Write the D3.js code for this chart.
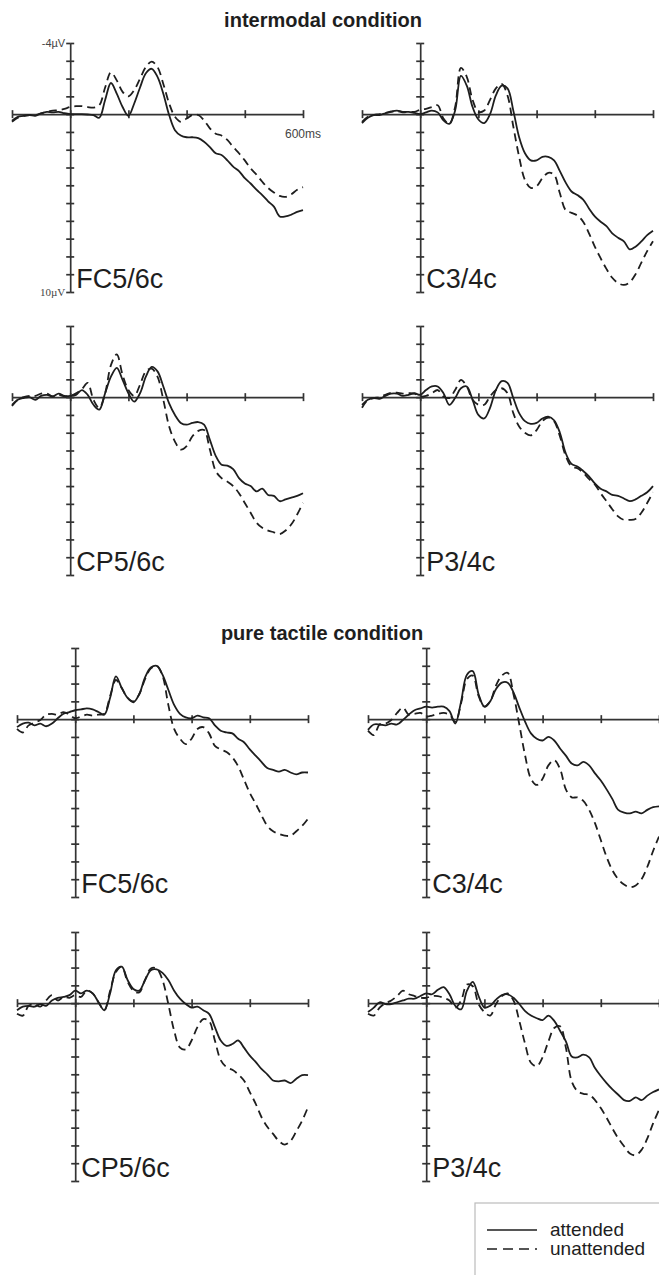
<!DOCTYPE html>
<html>
<head>
<meta charset="utf-8">
<script src="https://cdn.jsdelivr.net/npm/d3@7/dist/d3.min.js"></script>
<style>
  body { margin: 0; background: #fff; }
  svg { display: block; font-family: "Liberation Sans", Arial, Helvetica, sans-serif; }
</style>
</head>
<body>
<div id="chart"></div>
<script>
// sample times (ms) shared by every curve
var times = [-150, -135, -120, -105, -90, -75, -60, -45, -30, -15, 0, 15, 30, 45, 60, 75, 90, 105, 120, 135,
  150, 165, 180, 195, 210, 225, 240, 255, 270, 285, 300, 315, 330, 345, 360, 375, 390, 405, 420, 435,
  450, 465, 480, 495, 510, 525, 540, 555, 570, 585, 600];

var conditions = ["intermodal condition", "pure tactile condition"];
var channels = ["FC5/6c", "C3/4c", "CP5/6c", "P3/4c"];
var seriesNames = ["attended", "unattended"];
var xTicks = [-150, 0, 150, 300, 450, 600];
var yTicks = [-4, -3, -2, -1, 0, 1, 2, 3, 4, 5, 6, 7, 8, 9, 10];

// values in microvolts (negative up)
// intermodal condition
var interFCatt = [0.37, 0.15, 0.1, 0.05, 0.1, -0.05, -0.13, -0.1, -0.13, -0.05, 0, 0, 0, 0.02, 0.05, 0.2, -0.8, -1.75, -1.15, -0.4,
  0.1, -0.6, -1.5, -2.3, -2.55, -2.1, -1.15, 0.05, 0.9, 1.2, 1.3, 1.3, 1.35, 1.55, 1.85, 2.2, 2.3, 2.6, 2.95, 3.2,
  3.6, 3.9, 4.25, 4.55, 4.9, 5.2, 5.75, 5.75, 5.65, 5.5, 5.4];
var interFCun = [0.43, 0.2, 0.1, 0.05, 0.05, -0.05, -0.13, -0.2, -0.22, -0.3, -0.4, -0.45, -0.45, -0.4, -0.37, -0.5, -1.5, -2.35, -1.9, -1.25,
  -1.0, -1.35, -2.0, -2.65, -2.95, -2.65, -1.7, -0.6, 0.15, 0.43, 0.25, 0.05, 0.05, 0.35, 0.8, 1.1, 1.2, 1.45, 1.85, 2.2,
  2.6, 3.05, 3.4, 3.8, 4.15, 4.4, 4.6, 4.65, 4.5, 4.25, 4.1];
var interCatt = [0.5, 0.2, 0.05, 0.05, -0.05, -0.15, -0.2, -0.13, -0.13, -0.07, 0, -0.1, -0.2, -0.1, 0.35, 0.55, -0.2, -2.15, -1.6, -0.4,
  0.3, 0.5, 0, -1.05, -1.6, -1.45, -0.2, 1.3, 2.2, 2.6, 2.6, 2.4, 2.4, 2.6, 3.2, 3.85, 4.35, 4.55, 4.8, 5.3,
  5.75, 6.05, 6.3, 6.7, 6.95, 7.15, 7.6, 7.45, 7.15, 6.8, 6.55];
var interCun = [0.43, 0.15, 0.05, 0, -0.07, -0.13, -0.17, -0.1, -0.13, -0.13, -0.25, -0.3, -0.4, -0.5, 0.25, 0.55, -0.4, -2.6, -2.1, -0.8,
  -0.13, -0.2, -0.8, -1.45, -1.7, -1.05, 0.7, 2.4, 3.7, 4.15, 4.05, 3.6, 3.3, 3.4, 4.45, 5.4, 5.55, 5.7, 6.05, 6.7,
  7.45, 8.1, 8.7, 9.2, 9.5, 9.6, 9.45, 9.0, 8.35, 7.7, 7.15];
var interCPatt = [0.43, 0.15, 0.05, 0, 0.15, -0.07, -0.13, -0.04, -0.2, -0.07, -0.07, -0.13, -0.4, -0.13, 0.43, 0.7, -0.22, -1.15, -1.65, -0.97,
  -0.22, 0.25, -0.22, -1.15, -1.7, -1.45, -0.6, 0.35, 1.0, 1.45, 1.55, 1.45, 1.4, 1.55, 2.4, 3.3, 3.8, 3.85, 4.05, 4.55,
  4.85, 5.0, 5.3, 5.15, 5.5, 5.55, 5.85, 5.75, 5.65, 5.55, 5.4];
var interCPun = [0.5, 0.15, 0, -0.07, -0.07, -0.2, -0.2, -0.04, -0.13, -0.04, -0.07, -0.22, -0.45, -0.8, 0.15, 0.6, -0.22, -1.8, -2.4, -1.25,
  -0.4, -0.07, -0.7, -1.45, -1.6, -1.15, 0.15, 1.65, 2.5, 2.95, 2.75, 2.2, 1.9, 1.85, 2.95, 4.15, 4.55, 4.75, 5.0, 5.4,
  5.95, 6.5, 7.05, 7.35, 7.5, 7.6, 7.7, 7.5, 7.15, 6.6, 5.95];
var interPatt = [0.43, 0.15, 0.05, 0.1, -0.07, -0.2, -0.2, -0.07, -0.13, -0.22, -0.13, -0.4, -0.6, -0.6, -0.22, 0.43, 0.05, -0.5, -0.6, 0.15,
  1.0, 1.2, 0.6, -0.4, -0.9, -0.8, 0.05, 0.9, 1.35, 1.5, 1.45, 1.2, 1.1, 1.3, 2.0, 3.15, 3.75, 3.9, 4.15, 4.45,
  4.85, 5.15, 5.3, 5.5, 5.55, 5.7, 5.85, 5.75, 5.55, 5.35, 5.0];
var interPun = [0.6, 0.15, 0.05, 0, -0.13, -0.25, -0.25, -0.2, -0.22, -0.2, -0.04, -0.07, -0.22, -0.4, -0.04, 0.05, -0.4, -0.97, -0.6, 0.15,
  0.43, 0.43, -0.04, -0.4, -0.5, -0.22, 0.9, 1.65, 2.0, 2.15, 1.85, 1.35, 1.15, 1.35, 2.2, 3.3, 3.9, 4.0, 4.25, 4.6,
  4.9, 5.4, 5.85, 6.3, 6.7, 6.9, 6.9, 6.85, 6.5, 5.95, 5.35];

// pure tactile condition
var pureFCatt = [0.45, 0.25, 0.2, 0.35, 0.25, 0.4, 0.25, -0.05, -0.3, -0.4, -0.5, -0.55, -0.6, -0.55, -0.4, -0.25, -1.2, -2.4, -1.75, -1.2,
  -0.95, -1.4, -2.35, -2.9, -3.0, -2.5, -1.65, -0.8, -0.3, -0.1, -0.05, -0.2, -0.1, -0.05, 0.35, 0.65, 0.75, 0.8, 1.1, 1.3,
  1.7, 2.05, 2.4, 2.75, 2.85, 2.95, 2.85, 3.0, 3.1, 3.0, 3.0];
var pureFCun = [0.55, 0.75, 0.35, 0.2, 0.05, -0.25, -0.3, -0.25, -0.4, -0.25, -0.05, -0.15, -0.25, -0.2, -0.25, -0.3, -1.3, -2.2, -1.75, -1.2,
  -1.0, -1.4, -2.25, -2.85, -3.0, -2.45, -0.8, 0.55, 1.1, 1.4, 1.1, 0.55, 0.45, 0.8, 1.5, 1.7, 1.85, 2.15, 2.65, 3.4,
  4.15, 4.75, 5.4, 6.0, 6.3, 6.45, 6.55, 6.55, 6.3, 6.0, 5.6];
var pureCatt = [0.6, 0.3, 0.3, 0.35, 0.25, 0.3, 0.05, -0.25, -0.5, -0.6, -0.7, -0.65, -0.7, -0.7, -0.45, 0.25, -1.0, -2.5, -2.7, -1.4,
  -0.7, -1.0, -1.7, -2.05, -2.05, -1.5, -0.65, 0.15, 0.8, 1.1, 1.2, 1.0, 1.2, 1.65, 2.05, 2.5, 2.6, 2.4, 2.6, 3.05,
  3.45, 3.95, 4.5, 5.1, 5.25, 5.3, 5.2, 5.3, 5.1, 4.95, 4.9];
var pureCun = [0.65, 0.9, 0.3, 0.25, 0.05, -0.35, -0.65, -0.25, -0.3, -0.35, -0.15, -0.2, -0.3, -0.35, -0.25, 0.15, -0.9, -2.25, -2.45, -1.3,
  -0.7, -1.0, -1.9, -2.45, -2.6, -1.4, 0.3, 2.05, 3.35, 3.7, 3.35, 2.6, 2.3, 2.8, 3.95, 4.4, 4.4, 4.6, 5.1, 5.85,
  6.8, 7.75, 8.5, 9.0, 9.3, 9.45, 9.35, 9.0, 8.3, 7.4, 6.6];
var pureCPatt = [0.4, 0.2, 0.15, 0.2, 0.05, 0.15, -0.15, -0.3, -0.35, -0.45, -0.7, -0.55, -0.7, -0.55, -0.05, 0.4, -0.55, -1.85, -2.05, -1.3,
  -0.8, -0.7, -1.3, -1.85, -1.9, -1.7, -1.3, -0.7, -0.25, 0.05, 0.25, 0.2, 0.4, 0.6, 1.35, 2.1, 2.4, 2.3, 2.1, 2.5,
  2.95, 3.3, 3.7, 4.0, 4.35, 4.4, 4.35, 4.5, 4.25, 4.05, 4.05];
var pureCPun = [0.6, 0.7, 0.15, 0.05, 0.2, -0.15, -0.45, -0.15, -0.35, -0.3, -0.45, -0.35, -0.7, -0.55, -0.05, 0.4, -0.7, -1.75, -2.05, -1.2,
  -0.7, -0.6, -1.3, -1.95, -1.95, -1.3, 0.05, 1.55, 2.5, 2.6, 2.1, 1.35, 0.9, 1.0, 2.1, 3.2, 3.6, 3.75, 4.0, 4.35,
  5.0, 5.65, 6.4, 6.95, 7.35, 7.75, 7.95, 7.75, 7.2, 6.6, 5.85];
var purePatt = [0.5, 0.25, -0.05, 0.05, 0.05, -0.05, -0.15, -0.25, -0.25, -0.4, -0.55, -0.5, -0.75, -0.9, -0.5, 0.15, 0.35, -0.7, -1.2, -0.4,
  0.25, 0.15, -0.2, -0.45, -0.5, -0.3, 0.05, 0.45, 0.7, 0.85, 0.95, 0.7, 1.0, 1.55, 2.15, 3.0, 3.05, 2.9, 3.05, 3.65,
  4.1, 4.5, 4.85, 5.15, 5.45, 5.5, 5.3, 5.45, 5.2, 5.0, 4.85];
var purePun = [0.6, 0.7, 0.25, 0, -0.15, -0.4, -0.7, -0.5, -0.4, -0.3, -0.3, -0.4, -0.4, -0.3, -0.15, 0.25, -0.15, -1.05, -0.95, 0.05,
  0.5, 0.7, 0.05, -0.4, -0.55, -0.15, 1.0, 2.3, 3.35, 3.55, 3.05, 2.15, 1.4, 1.3, 2.5, 4.4, 4.95, 5.1, 5.15, 5.45,
  5.9, 6.45, 7.05, 7.6, 8.05, 8.45, 8.55, 8.25, 7.6, 6.75, 6.0];

var panelData = [
  [[interFCatt, interFCun], [interCatt, interCun], [interCPatt, interCPun], [interPatt, interPun]],
  [[pureFCatt, pureFCun], [pureCatt, pureCun], [pureCPatt, pureCPun], [purePatt, purePun]]
];

var width = 659, height = 1275;
var panelW = 291, panelH = 249;
var ink = "#1e1e1e", axisInk = "#333";

// left edge (t=-150) and top (-4 uV) of every panel
var layout = [
  {cond: 0, ch: 0, x: 12, y: 43}, {cond: 0, ch: 1, x: 362, y: 43},
  {cond: 0, ch: 2, x: 12, y: 326}, {cond: 0, ch: 3, x: 362, y: 326},
  {cond: 1, ch: 0, x: 17, y: 648}, {cond: 1, ch: 1, x: 368, y: 648},
  {cond: 1, ch: 2, x: 17, y: 932}, {cond: 1, ch: 3, x: 368, y: 932}
];

var svg = d3.select("#chart").append("svg")
  .attr("width", width)
  .attr("height", height);

var x = d3.scaleLinear().domain([-150, 600]).range([0, panelW]);
var y = d3.scaleLinear().domain([-4, 10]).range([0, panelH]);

var line = d3.line()
  .x(function(d) { return x(d[0]); })
  .y(function(d) { return y(d[1]); })
  .curve(d3.curveCatmullRom.alpha(0.5));

// condition headings
svg.append("text")
  .attr("x", 323).attr("y", 27)
  .attr("text-anchor", "middle")
  .style("font-size", "20px").style("font-weight", "bold").style("fill", ink)
  .text(conditions[0]);
svg.append("text")
  .attr("x", 322).attr("y", 640)
  .attr("text-anchor", "middle")
  .style("font-size", "20px").style("font-weight", "bold").style("fill", ink)
  .text(conditions[1]);

layout.forEach(function(p, i) {
  var g = svg.append("g")
    .attr("transform", "translate(" + p.x + "," + p.y + ")");

  // y axis, ticks crossing the line
  var ya = g.append("g").attr("transform", "translate(" + x(0) + ",0)");
  ya.call(d3.axisLeft(y).tickValues(yTicks).tickSize(4).tickSizeOuter(0).tickFormat(""));
  ya.append("g").call(d3.axisRight(y).tickValues(yTicks).tickSize(4).tickSizeOuter(0).tickFormat(""))
    .select(".domain").remove();

  // x axis at 0 uV
  var xa = g.append("g").attr("transform", "translate(0," + y(0) + ")");
  xa.call(d3.axisBottom(x).tickValues(xTicks).tickSize(4).tickSizeOuter(0).tickFormat(""));
  xa.append("g").call(d3.axisTop(x).tickValues(xTicks).tickSize(4).tickSizeOuter(0).tickFormat(""))
    .select(".domain").remove();

  g.selectAll(".domain, .tick line")
    .attr("stroke", axisInk).attr("stroke-width", 1.7);

  var pair = panelData[p.cond][p.ch];
  pair.forEach(function(vals, k) {
    var pts = times.map(function(t, j) { return [t, vals[j]]; });
    g.append("path")
      .datum(pts)
      .attr("d", line)
      .attr("fill", "none")
      .attr("stroke", ink)
      .attr("stroke-width", 1.8)
      .attr("stroke-dasharray", k == 1 ? "8,5" : null);
  });

  g.append("text")
    .attr("x", x(0) + 6)
    .attr("y", panelH - 4)
    .style("font-size", "27px").style("fill", ink)
    .text(channels[p.ch]);

  if (i == 0) {
    g.append("text")
      .attr("x", x(0) - 5).attr("y", y(-4) + 4)
      .attr("text-anchor", "end")
      .style("font-size", "11px").style("fill", "#444")
      .text("-4\u00b5V");
    g.append("text")
      .attr("x", x(0) - 5).attr("y", y(10) + 4)
      .attr("text-anchor", "end")
      .style("font-size", "11px").style("font-family", "'Liberation Serif', serif").style("fill", "#444")
      .text("10\u00b5V");
    g.append("text")
      .attr("x", x(600)).attr("y", y(0) + 24)
      .attr("text-anchor", "middle")
      .style("font-size", "12px").style("fill", "#444")
      .text("600ms");
  }
});

// legend
var legend = svg.append("g").attr("transform", "translate(475,1203)");
legend.append("rect")
  .attr("width", 200).attr("height", 100)
  .attr("fill", "none").attr("stroke", "#bbb").attr("stroke-width", 1.2);

var legendItem = legend.selectAll(".legend")
  .data(seriesNames)
  .enter().append("g")
  .attr("class", "legend")
  .attr("transform", function(d, i) { return "translate(0," + (27 + i * 19) + ")"; });

legendItem.append("line")
  .attr("x1", 12).attr("x2", 62)
  .attr("stroke", ink).attr("stroke-width", 1.5)
  .attr("stroke-dasharray", function(d, i) { return i == 1 ? "10,6" : null; });

legendItem.append("text")
  .attr("x", 75).attr("y", 6)
  .style("font-size", "19px").style("fill", ink)
  .text(function(d) { return d; });
</script>
</body>
</html>
